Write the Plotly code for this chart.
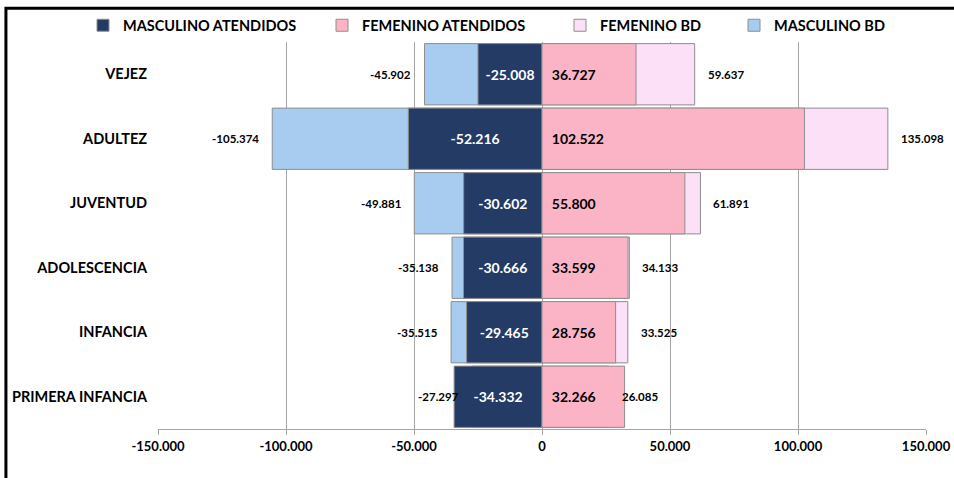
import plotly.graph_objects as go

categories = ["PRIMERA INFANCIA", "INFANCIA", "ADOLESCENCIA", "JUVENTUD", "ADULTEZ", "VEJEZ"]
masc_atendidos = [-34332, -29465, -30666, -30602, -52216, -25008]
fem_atendidos = [32266, 28756, 33599, 55800, 102522, 36727]
fem_bd = [26085, 33525, 34133, 61891, 135098, 59637]
masc_bd = [-27297, -35515, -35138, -49881, -105374, -45902]
tick_vals = [-150000, -100000, -50000, 0, 50000, 100000, 150000]
tick_text = ["-150.000", "-100.000", "-50.000", "0", "50.000", "100.000", "150.000"]

C_MA = "#243B66"
C_FA = "#FBB4C5"
C_FB = "#FBE0F7"
C_MB = "#A8CCF0"
FONT = "Lato"


def fmt(v):
    s = f"{abs(v):,}".replace(",", ".")
    return ("-" if v < 0 else "") + s


fig = go.Figure()
edge = dict(color="#8E8E8E", width=1)

fig.add_trace(go.Bar(y=categories, x=masc_bd, orientation="h", name="MASCULINO BD",
                     marker=dict(color=C_MB, line=edge), legend="legend4", showlegend=True))
fig.add_trace(go.Bar(y=categories, x=fem_bd, orientation="h", name="FEMENINO BD",
                     marker=dict(color=C_FB, line=edge), legend="legend3", showlegend=True))
fig.add_trace(go.Bar(y=categories, x=masc_atendidos, orientation="h", name="MASCULINO ATENDIDOS",
                     marker=dict(color=C_MA, line=edge), legend="legend", showlegend=True,
                     text=[fmt(v) for v in masc_atendidos], texttemplate="%{text}",
                     textposition="inside", insidetextanchor="middle",
                     textfont=dict(family=FONT, size=14, color="white", weight="bold")))
fig.add_trace(go.Bar(y=categories, x=fem_atendidos, orientation="h", name="FEMENINO ATENDIDOS",
                     marker=dict(color=C_FA, line=edge), legend="legend2", showlegend=True,
                     text=["\u00a0\u00a0" + fmt(v) for v in fem_atendidos], texttemplate="%{text}",
                     textposition="inside", insidetextanchor="start",
                     textfont=dict(family=FONT, size=14, color="black", weight="bold")))

annotations = []
for cat, v in zip(categories, masc_bd):
    annotations.append(dict(x=v, y=cat, xref="x", yref="y", text=fmt(v), showarrow=False,
                            xanchor="right", xshift=-11,
                            font=dict(family=FONT, size=11.5, color="black", weight="bold")))
for cat, v in zip(categories, fem_bd):
    annotations.append(dict(x=v, y=cat, xref="x", yref="y", text=fmt(v), showarrow=False,
                            xanchor="left", xshift=11,
                            font=dict(family=FONT, size=11.5, color="black", weight="bold")))

leg_common = dict(orientation="h", xref="container", yref="container", y=0.947, yanchor="middle",
                  xanchor="left", bgcolor="rgba(0,0,0,0)", visible=True,
                  font=dict(family=FONT, size=14.5, color="black", weight="bold"))

fig.update_layout(
    width=954, height=478,
    margin=dict(l=158, r=28, t=42, b=49, autoexpand=False),
    barmode="overlay", bargap=0.05,
    showlegend=True,
    paper_bgcolor="white", plot_bgcolor="white",
    font=dict(family=FONT, size=13, color="black", weight="bold"),
    separators=",.",
    annotations=annotations,
    legend=dict(x=83 / 954, **leg_common),
    legend2=dict(x=322 / 954, **leg_common),
    legend3=dict(x=560 / 954, **leg_common),
    legend4=dict(x=734 / 954, **leg_common),
    xaxis=dict(range=[-150000, 150000], tickvals=tick_vals, ticktext=tick_text,
               showgrid=True, gridcolor="#A6A6A6", gridwidth=1,
               zeroline=True, zerolinecolor="#A6A6A6", zerolinewidth=1,
               showline=True, linecolor="#A6A6A6", linewidth=1,
               ticks="outside", ticklen=5, tickcolor="#A6A6A6",
               tickfont=dict(family=FONT, size=13, color="black", weight="bold")),
    yaxis=dict(categoryorder="array", categoryarray=categories,
               showgrid=False, zeroline=False, showline=False,
               ticklabelstandoff=10,
               tickfont=dict(family=FONT, size=14.5, color="black", weight="bold")),
    shapes=[dict(type="rect", xref="paper", yref="paper",
                 x0=-0.198, x1=1.05, y0=-0.16, y1=1.087,
                 line=dict(color="black", width=3), fillcolor="rgba(0,0,0,0)", layer="above")],
)

fig.write_html("out.html")
